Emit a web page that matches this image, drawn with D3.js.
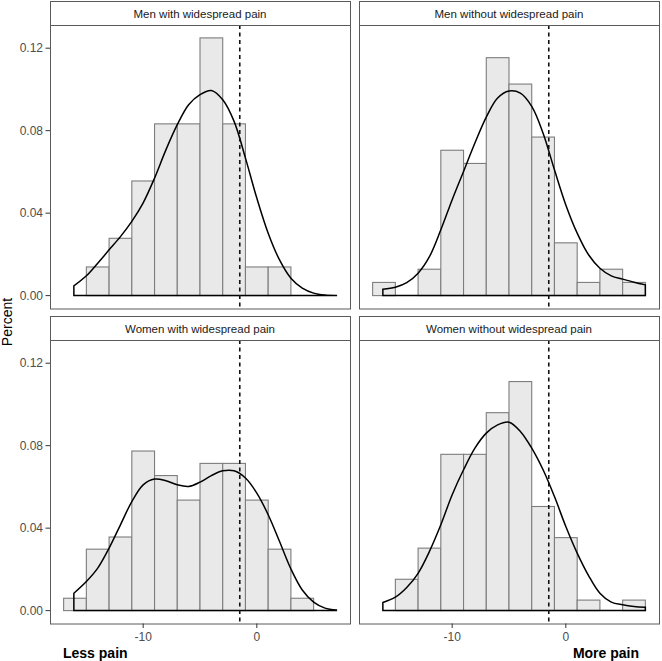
<!DOCTYPE html>
<html>
<head>
<meta charset="utf-8">
<script src="https://cdn.jsdelivr.net/npm/d3@7"></script>
<style>
  body { margin: 0; background: #fff; }
  text { font-family: Arial, "Liberation Sans", sans-serif; }
</style>
</head>
<body>
<div id="vis"></div>
<script>
// facet titles
var panelTitles = ["Men with widespread pain", "Men without widespread pain",
                   "Women with widespread pain", "Women without widespread pain"];

// histogram bins (left edges, width 2)
var binStart = [-17, -15, -13, -11, -9, -7, -5, -3, -1, 1, 3, 5];
var binWidth = 2;

// bar heights ("Percent") per panel
var histMenWith      = [0, 0.0139, 0.0278, 0.0556, 0.0833, 0.0833, 0.125, 0.0833, 0.0139, 0.0139, 0, 0];
var histMenWithout   = [0.0064, 0, 0.0128, 0.0705, 0.0641, 0.1154, 0.1026, 0.0769, 0.0256, 0.0064, 0.0128, 0.0064];
var histWomenWith    = [0.006, 0.0298, 0.0357, 0.0774, 0.0655, 0.0536, 0.0714, 0.0714, 0.0536, 0.0298, 0.006, 0];
var histWomenWithout = [0, 0.0152, 0.0303, 0.0758, 0.0758, 0.096, 0.1111, 0.0505, 0.0354, 0.0051, 0, 0.0051];

// density curves, read at these x positions
var densX = [-16.1, -15, -14, -13, -12, -11, -10, -9, -8, -7, -6, -5, -4, -3, -2, -1, 0, 1, 2, 3, 4, 5, 6, 7];
var densMenWith      = [0.0047, 0.0096, 0.0157, 0.0222, 0.0286, 0.036, 0.045, 0.057, 0.0707, 0.0829, 0.0926, 0.0975,
                        0.0995, 0.095, 0.0845, 0.0667, 0.0473, 0.0303, 0.0173, 0.0084, 0.0036, 0.0012, 0.0003, 0.0001];
var densMenWithout   = [0.0031, 0.0041, 0.0063, 0.0109, 0.0189, 0.0319, 0.0465, 0.0602, 0.074, 0.0866, 0.0958, 0.0992,
                        0.0982, 0.0918, 0.0788, 0.061, 0.044, 0.0303, 0.0198, 0.0133, 0.0096, 0.008, 0.0065, 0.0052];
var densWomenWith    = [0.0084, 0.0141, 0.0206, 0.0303, 0.0416, 0.0529, 0.061, 0.0638, 0.063, 0.061, 0.0602, 0.0623,
                        0.0655, 0.0678, 0.0678, 0.0643, 0.057, 0.0465, 0.0335, 0.0202, 0.01, 0.0041, 0.0012, 0.0003];
var densWomenWithout = [0.0039, 0.0065, 0.0112, 0.0181, 0.0287, 0.0416, 0.0562, 0.0683, 0.0788, 0.0861, 0.0901, 0.0914,
                        0.0869, 0.0788, 0.0683, 0.0553, 0.0408, 0.0279, 0.017, 0.0084, 0.0041, 0.0028, 0.002, 0.0016];

var cutoff = -1.5;          // dashed reference line
var yTicks = [0, 0.04, 0.08, 0.12];
var xTicks = [-10, 0];

var hists = [histMenWith, histMenWithout, histWomenWith, histWomenWithout];
var dens  = [densMenWith, densMenWithout, densWomenWith, densWomenWithout];

var width = 662, height = 661;
var panelW = 300, plotH = 283.5, stripH = 24;
var colX = [50, 359], rowY = [1, 316];

var svg = d3.select("#vis").append("svg")
    .attr("width", width)
    .attr("height", height);

var x = d3.scaleLinear().domain([-18.2, 8.2]).range([0, panelW]);
var y = d3.scaleLinear().domain([-0.00625, 0.13125]).range([plotH, 0]);

var area = d3.area()
    .x(function (d) { return x(d[0]); })
    .y0(y(0))
    .y1(function (d) { return y(Math.max(0, d[1])); })
    .curve(d3.curveCatmullRom.alpha(0.5));

panelTitles.forEach(function (title, i) {
  var col = i % 2, row = Math.floor(i / 2);
  var left = colX[col], top = rowY[row];

  // strip
  svg.append("rect")
    .attr("x", left + 0.5).attr("y", top + 0.5)
    .attr("width", panelW).attr("height", stripH)
    .attr("fill", "#fff").attr("stroke", "#5a5a5a").attr("stroke-width", 1);
  svg.append("text")
    .attr("x", left + panelW / 2).attr("y", top + stripH / 2 + 1)
    .attr("dy", "0.35em")
    .attr("text-anchor", "middle")
    .attr("fill", "#1a1a1a")
    .style("font-size", "11.5px")
    .text(title);

  var g = svg.append("g")
    .attr("transform", "translate(" + left + "," + (top + stripH) + ")");

  var bins = binStart.map(function (b, j) { return {x0: b, h: hists[i][j]}; });

  g.selectAll(".bar")
    .data(bins)
    .enter().append("rect")
    .attr("class", "bar")
    .attr("x", function (d) { return x(d.x0); })
    .attr("y", function (d) { return y(d.h); })
    .attr("width", function (d) { return x(d.x0 + binWidth) - x(d.x0); })
    .attr("height", function (d) { return y(0) - y(d.h); })
    .attr("fill", "#e9e9e9")
    .attr("stroke", "#7d7d7d")
    .attr("stroke-width", 1.1);

  var pts = densX.map(function (v, j) { return [v, dens[i][j]]; });
  g.append("path")
    .datum(pts)
    .attr("d", area)
    .attr("fill", "none")
    .attr("stroke", "#000")
    .attr("stroke-width", 1.5);

  g.append("line")
    .attr("x1", x(cutoff)).attr("x2", x(cutoff))
    .attr("y1", 0).attr("y2", plotH)
    .attr("stroke", "#111")
    .attr("stroke-width", 1.6)
    .attr("stroke-dasharray", "4,3.5");

  // panel border
  g.append("rect")
    .attr("x", 0.5).attr("y", 0.5)
    .attr("width", panelW).attr("height", plotH)
    .attr("fill", "none").attr("stroke", "#5a5a5a").attr("stroke-width", 1);

  if (col === 0) {
    yTicks.forEach(function (t) {
      g.append("line")
        .attr("x1", -4.5).attr("x2", 0)
        .attr("y1", y(t)).attr("y2", y(t))
        .attr("stroke", "#333").attr("stroke-width", 1);
      g.append("text")
        .attr("x", -7).attr("y", y(t))
        .attr("dy", "0.35em")
        .attr("text-anchor", "end")
        .attr("fill", "#4d4d4d")
        .style("font-size", "12px")
        .text(d3.format(".2f")(t));
    });
  }
  if (row === 1) {
    xTicks.forEach(function (t) {
      g.append("line")
        .attr("x1", x(t)).attr("x2", x(t))
        .attr("y1", plotH).attr("y2", plotH + 4.5)
        .attr("stroke", "#333").attr("stroke-width", 1);
      g.append("text")
        .attr("x", x(t)).attr("y", plotH + 17.5)
        .attr("text-anchor", "middle")
        .attr("fill", "#4d4d4d")
        .style("font-size", "12px")
        .text(t);
    });
  }
});

svg.append("text")
  .attr("transform", "translate(12,322) rotate(-90)")
  .attr("text-anchor", "middle")
  .attr("fill", "#000")
  .style("font-size", "14px")
  .text("Percent");

svg.append("text")
  .attr("x", 63).attr("y", 658)
  .attr("fill", "#000")
  .style("font-size", "14px")
  .style("font-weight", "bold")
  .text("Less pain");

svg.append("text")
  .attr("x", 639).attr("y", 658)
  .attr("text-anchor", "end")
  .attr("fill", "#000")
  .style("font-size", "14px")
  .style("font-weight", "bold")
  .text("More pain");
</script>
</body>
</html>
